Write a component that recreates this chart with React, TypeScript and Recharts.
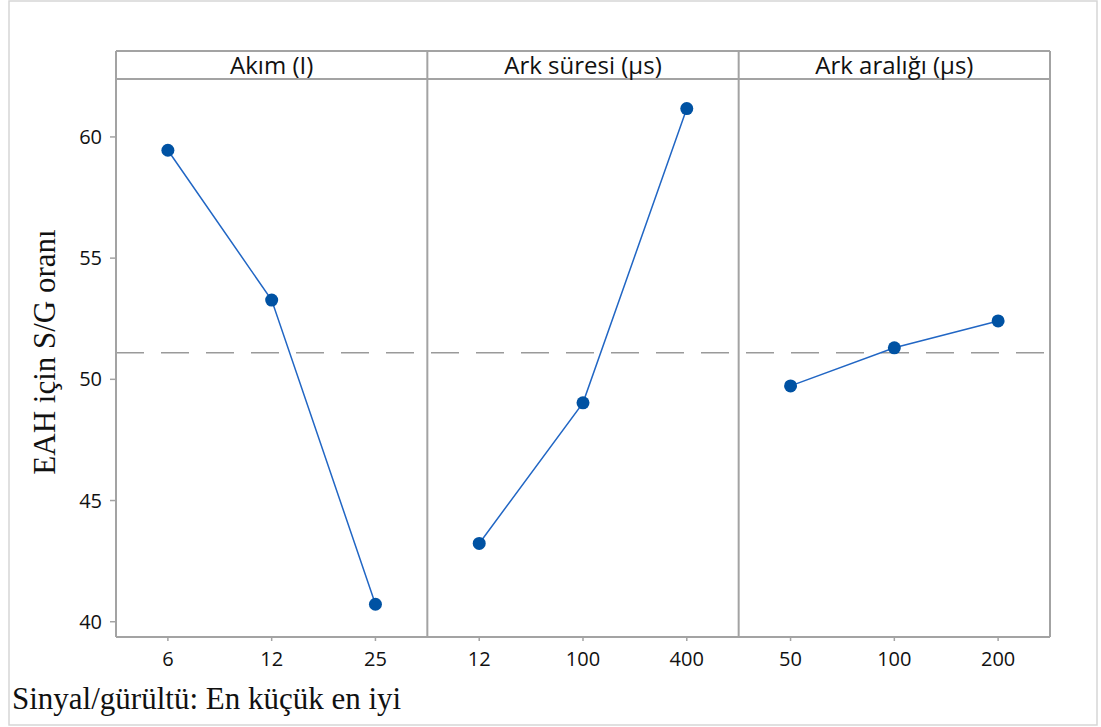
import React from 'react';
import { LineChart, Line, XAxis, YAxis, ReferenceLine, Customized } from 'recharts';

// ---- data ----
const panelTitles = ['Akım (I)', 'Ark süresi (μs)', 'Ark aralığı (μs)'];
const akimLevels = ['6', '12', '25'];
const arkSuresiLevels = ['12', '100', '400'];
const arkAraligiLevels = ['50', '100', '200'];
const akimSN = [59.45, 53.27, 40.72];
const arkSuresiSN = [43.23, 49.03, 61.17];
const arkAraligiSN = [49.73, 51.3, 52.41];
const grandMean = 51.1;
const yTicks = [40, 45, 50, 55, 60];
const yTitle = 'EAH için S/G oranı';
const footer = 'Sinyal/gürültü: En küçük en iyi';

// ---- layout / style ----
const W = 1101;
const H = 727;
const PLOT_L = 116;
const PLOT_R = 1050;
const PLOT_T = 79;
const HEADER_T = 51;
const GRAY = '#a3a3a3';
const TEXT = '#111111';
const SANS = '"Open Sans", "Noto Sans", sans-serif';
const SERIF = '"Liberation Serif", "DejaVu Serif", serif';
const LINE_COLOR = '#2166c4';
const DOT_COLOR = '#0052a3';

const levelSets = [akimLevels, arkSuresiLevels, arkAraligiLevels];
const valueSets = [akimSN, arkSuresiSN, arkAraligiSN];
const flatLabels = levelSets.flat();
const seriesData = valueSets.map((vals, p) =>
  vals.map((v, i) => ({ x: p * 3 + i + 0.5, y: v }))
);
const bottomTicks = flatLabels.map((_, k) => k + 0.5);
const topTicks = panelTitles.map((_, p) => p * 3 + 1.5);

const Decor = () => {
  const pw = (PLOT_R - PLOT_L) / 3;
  return (
    <g>
      <rect x={9} y={1} width={1088} height={724} fill="none" stroke="#d6d6d6" strokeWidth={1.5} />
      <line x1={PLOT_L} x2={PLOT_R} y1={HEADER_T} y2={HEADER_T} stroke={GRAY} strokeWidth={2} />
      {[0, 1, 2, 3].map((k) => (
        <line
          key={k}
          x1={PLOT_L + k * pw}
          x2={PLOT_L + k * pw}
          y1={HEADER_T}
          y2={PLOT_T}
          stroke={GRAY}
          strokeWidth={2}
        />
      ))}
      <text
        transform={`translate(55, 352) rotate(-90)`}
        textAnchor="middle"
        fontFamily={SERIF}
        fontSize={31}
        fill="#111"
      >
        {yTitle}
      </text>
      <text x={12} y={709} fontFamily={SERIF} fontSize={31} fill="#111">
        {footer}
      </text>
    </g>
  );
};

export default function App() {
  return (
    <div style={{ position: 'absolute', left: 0, top: 0, width: W, height: H, background: '#fff' }}>
      <LineChart
        width={W}
        height={H}
        margin={{ top: HEADER_T, right: W - PLOT_R, left: 16, bottom: 50 }}
      >
        <XAxis
          xAxisId="bottom"
          dataKey="x"
          type="number"
          domain={[0, 9]}
          allowDataOverflow
          ticks={bottomTicks}
          tickFormatter={(v: number) => flatLabels[Math.round(v - 0.5)] ?? ''}
          height={40}
          tickSize={4}
          tickMargin={11}
          axisLine={{ stroke: GRAY, strokeWidth: 2 }}
          tickLine={{ stroke: GRAY, strokeWidth: 1.5 }}
          tick={{ fill: TEXT, fontSize: 20, fontFamily: SANS, fontWeight: 500 }}
          interval={0}
        />
        <XAxis
          xAxisId="top"
          orientation="top"
          dataKey="x"
          type="number"
          domain={[0, 9]}
          allowDataOverflow
          ticks={topTicks}
          tickFormatter={(v: number) => panelTitles[Math.round((v - 1.5) / 3)] ?? ''}
          height={PLOT_T - HEADER_T}
          tickSize={0}
          tickMargin={5}
          axisLine={{ stroke: GRAY, strokeWidth: 2 }}
          tickLine={false}
          tick={{ fill: TEXT, fontSize: 24, fontFamily: SANS, fontWeight: 500 }}
          interval={0}
        />
        <YAxis
          type="number"
          domain={[39.37, 62.39]}
          allowDataOverflow
          ticks={yTicks}
          width={100}
          tickSize={6}
          tickMargin={8}
          axisLine={{ stroke: GRAY, strokeWidth: 2 }}
          tickLine={{ stroke: GRAY, strokeWidth: 1.5 }}
          tick={{ fill: TEXT, fontSize: 20, fontFamily: SANS, fontWeight: 500 }}
          interval={0}
        />
        <ReferenceLine xAxisId="bottom" x={3} stroke={GRAY} strokeWidth={2} />
        <ReferenceLine xAxisId="bottom" x={6} stroke={GRAY} strokeWidth={2} />
        <ReferenceLine xAxisId="bottom" x={9} stroke={GRAY} strokeWidth={2} />
        <ReferenceLine
          xAxisId="bottom"
          y={grandMean}
          stroke="#9a9a9a"
          strokeWidth={1.5}
          strokeDasharray="28 17"
        />
        {seriesData.map((d, p) => (
          <Line
            key={p}
            xAxisId="bottom"
            data={d}
            dataKey="y"
            stroke={LINE_COLOR}
            strokeWidth={1.5}
            dot={{ r: 6.5, fill: DOT_COLOR, stroke: DOT_COLOR, strokeWidth: 0 }}
            isAnimationActive={false}
          />
        ))}
        <Customized component={Decor} />
      </LineChart>
    </div>
  );
}
